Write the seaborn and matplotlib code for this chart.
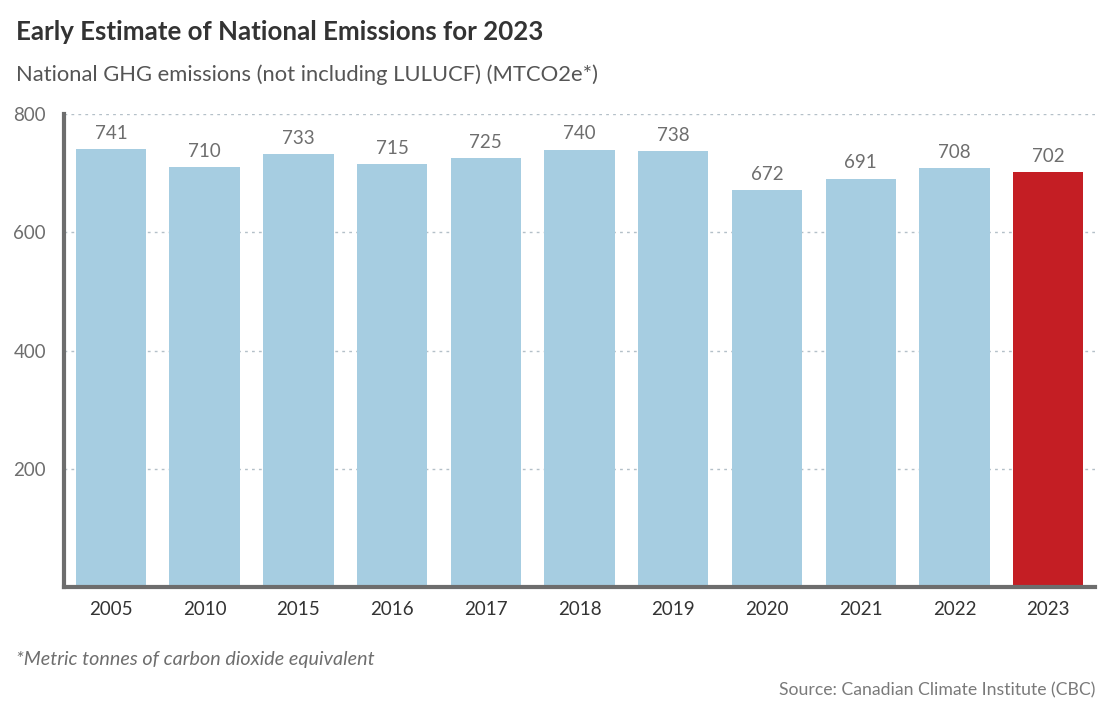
import numpy as np
import pandas as pd
import seaborn as sns
import matplotlib.pyplot as plt

years = ["2005", "2010", "2015", "2016", "2017", "2018", "2019", "2020", "2021", "2022", "2023"]
emissions = [741, 710, 733, 715, 725, 740, 738, 672, 691, 708, 702]
y_ticks = [200, 400, 600, 800]

sns.set_theme(style="white")
plt.rcParams['font.family'] = ['Lato', 'DejaVu Sans']

df = pd.DataFrame({'year': years, 'emissions': emissions})
palette = ['#a6cde1'] * (len(years) - 1) + ['#c41e24']

fig = plt.figure(figsize=(11.14, 7.22), dpi=100)
ax = fig.add_axes([0.0575, 0.187, 0.9255, 0.655])

sns.barplot(data=df, x='year', y='emissions', hue='year', palette=palette,
            legend=False, width=0.75, saturation=1, linewidth=0, ax=ax, zorder=2)

for i, v in enumerate(emissions):
    ax.text(i, v + 12, str(v), ha='center', va='bottom', fontsize=13.5, color='#6e6e6e')

ax.set_xlim(-0.5, len(years) - 0.5)
ax.set_ylim(0, 800)
ax.set_yticks(y_ticks)
ax.set_xlabel('')
ax.set_ylabel('')
ax.yaxis.grid(True, color='#b4c0c8', linestyle=(0, (2, 3)), linewidth=1, zorder=0)
ax.tick_params(axis='y', length=7, width=3, color='#6d6d6d', labelsize=13.5,
               labelcolor='#6e6e6e', pad=6)
ax.tick_params(axis='x', length=0, labelsize=13.5, labelcolor='#333333', pad=10)

for side in ['top', 'right']:
    ax.spines[side].set_visible(False)
for side in ['left', 'bottom']:
    ax.spines[side].set_color('#6d6d6d')
    ax.spines[side].set_linewidth(3)
    ax.spines[side].set_zorder(4)

fig.text(0.0144, 0.955, 'Early Estimate of National Emissions for 2023', fontsize=18.6,
         fontweight='bold', color='#333333', ha='left', va='center')
fig.text(0.0144, 0.896, 'National GHG emissions (not including LULUCF) (MTCO2e*)', fontsize=15.8,
         color='#555555', ha='left', va='center')
fig.text(0.0144, 0.086, '*Metric tonnes of carbon dioxide equivalent', fontsize=14.2,
         style='italic', color='#6e6e6e', ha='left', va='center')
fig.text(0.983, 0.044, 'Source: Canadian Climate Institute (CBC)', fontsize=12.7,
         color='#7a7a7a', ha='right', va='center')

fig.savefig('out.png', dpi=100)
